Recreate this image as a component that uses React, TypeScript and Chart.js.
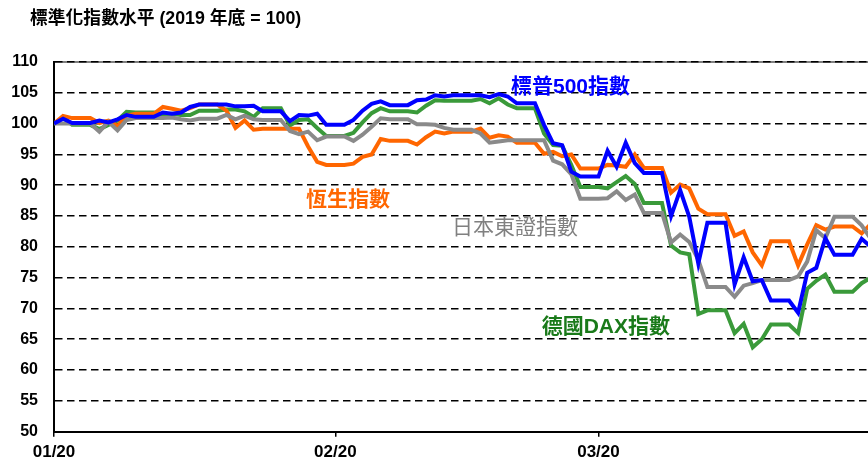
import React, { useEffect, useRef } from "react";
import { Chart, registerables } from "chart.js";

Chart.register(...registerables);

// ---- data ----
const TITLE = "標準化指數水平 (2019 年底 = 100)";

// day number counted from 1 Jan 2020 (= 0); weekdays only, weekends are carried forward
const TRADING_DAYS = [
  0, 1, 2, 5, 6, 7, 8, 9, 12, 13, 14, 15, 16, 19, 20, 21, 22, 23, 26, 27, 28, 29, 30,
  33, 34, 35, 36, 37, 40, 41, 42, 43, 44, 47, 48, 49, 50, 51, 54, 55, 56, 57, 58,
  61, 62, 63, 64, 65, 68, 69, 70, 71, 72, 75, 76, 77, 78, 79, 82, 83, 84, 85, 86, 89, 90,
];

const X_TICKS = [0, 31, 60];
const X_TICK_LABELS = ["01/20", "02/20", "03/20"];

const SP500 = [
  100, 100.8, 100.1, 100.5, 100.2, 100.7, 101.4, 101.1, 101.8, 101.6, 101.8, 102.7, 103.1,
  103.1, 102.8, 102.8, 102.9, 102.0, 100.4, 101.4, 101.3, 101.6, 99.8,
  100.6, 102.1, 103.2, 103.6, 103.0, 103.8, 103.9, 104.6, 104.4, 104.6,
  104.6, 104.3, 104.8, 104.4, 103.3, 99.8, 96.8, 96.5, 92.2, 91.4,
  95.6, 93.0, 96.9, 93.6, 92.0, 85.0, 89.2, 84.9, 77.3, 83.9,
  73.9, 78.3, 74.4, 74.6, 71.3, 69.3, 75.8, 76.6, 81.4, 78.7, 81.3, 80.0,
];

const HANG_SENG = [
  100, 101.25, 100.9, 100.1, 100.5, 99.6, 101.3, 101.6, 102.7, 102.4, 102.1, 102.5, 103.1,
  102.1, 99.3, 100.5, 99.0, 99.15, 99.15, 99.15, 96.3, 93.8, 93.3,
  93.5, 94.6, 95.0, 97.5, 97.2, 96.6, 97.8, 98.7, 98.4, 98.7,
  99.2, 97.7, 98.1, 97.9, 96.9, 95.1, 95.4, 94.7, 95.0, 92.7,
  93.3, 93.2, 93.0, 95.0, 92.8, 88.8, 90.1, 89.5, 86.2, 85.3,
  81.8, 82.5, 79.1, 77.0, 80.9, 77.0, 80.4, 83.5, 82.8, 83.3, 82.2, 83.7,
];

const TOPIX = [
  100, 100, 100, 98.7, 100.3, 98.9, 100.6, 100.9, 100.9, 101.0, 100.7, 100.5, 100.8,
  101.4, 100.7, 101.3, 100.7, 100.6, 98.8, 98.3, 98.7, 97.3, 97.9,
  97.2, 98.2, 99.5, 100.85, 100.7, 99.9, 99.9, 99.8, 99.3, 99.0,
  98.4, 96.9, 97.1, 97.3, 97.3, 97.3, 94.0, 93.4, 91.8, 87.8,
  87.9, 89.0, 87.6, 88.5, 85.5, 80.7, 82.0, 80.8, 77.9, 73.5,
  71.9, 73.7, 74.1, 74.6, 74.6, 75.2, 77.6, 82.7, 81.4, 84.9, 83.5, 81.3,
];

const DAX = [
  100, 101.0, 99.8, 99.1, 99.8, 100.5, 101.9, 101.8, 101.5, 101.6, 101.4, 101.4, 102.1,
  102.3, 102.3, 102.0, 101.1, 102.5, 99.7, 100.6, 100.7, 99.3, 98.0,
  98.5, 100.2, 101.7, 102.5, 102.0, 101.8, 102.9, 103.8, 103.7, 103.7,
  104.0, 103.3, 104.1, 103.1, 102.5, 98.4, 96.5, 96.4, 93.3, 89.7,
  89.5, 90.5, 91.5, 90.2, 87.1, 80.2, 79.1, 78.8, 69.1, 69.7,
  66.0, 67.5, 63.7, 65.0, 67.4, 66.0, 73.2, 74.5, 75.5, 72.7, 74.1, 75.0,
];

const SERIES_NAMES = ["標普500指數", "日本東證指數", "恆生指數", "德國DAX指數"];

// ---- helpers ----
const FONT = '"Liberation Sans", "Noto Sans CJK TC", Arial, sans-serif';

function dailySeries(values: number[]) {
  const pts: { x: number; y: number }[] = [];
  let j = 0;
  const last = TRADING_DAYS[TRADING_DAYS.length - 1];
  for (let d = 0; d <= last; d++) {
    while (j + 1 < TRADING_DAYS.length && TRADING_DAYS[j + 1] <= d) j++;
    pts.push({ x: d, y: values[j] });
  }
  return pts;
}

const overlayPlugin = {
  id: "overlay",
  afterDatasetsDraw(chart: any) {
    const { ctx, chartArea, scales } = chart;
    const { x, y } = scales;
    ctx.save();
    // top frame line
    ctx.strokeStyle = "#000";
    ctx.lineWidth = 1;
    ctx.beginPath();
    ctx.moveTo(chartArea.left, chartArea.top);
    ctx.lineTo(chartArea.right, chartArea.top);
    ctx.stroke();

    // series labels
    const labels = chart.options.plugins.overlay.labels;
    ctx.textAlign = "left";
    ctx.textBaseline = "middle";
    for (const l of labels) {
      ctx.font = `${l.bold ? "bold " : ""}21px ${FONT}`;
      ctx.fillStyle = l.color;
      ctx.fillText(l.text, x.getPixelForValue(l.day), y.getPixelForValue(l.value));
    }

    // title
    ctx.font = `bold 17.8px ${FONT}`;
    ctx.fillStyle = "#000";
    ctx.textBaseline = "middle";
    ctx.fillText(TITLE, 30, 19.5);
    ctx.restore();
  },
};

export default function App() {
  const ref = useRef<HTMLCanvasElement | null>(null);

  useEffect(() => {
    if (!ref.current) return;
    const chart = new Chart(ref.current, {
      type: "line",
      data: {
        datasets: [
          { label: SERIES_NAMES[0], data: dailySeries(SP500), borderColor: "#0000FF" },
          { label: SERIES_NAMES[1], data: dailySeries(TOPIX), borderColor: "#8A8A8A" },
          { label: SERIES_NAMES[2], data: dailySeries(HANG_SENG), borderColor: "#FF6600" },
          { label: SERIES_NAMES[3], data: dailySeries(DAX), borderColor: "#3A9A3A" },
        ],
      },
      options: {
        responsive: true,
        maintainAspectRatio: false,
        animation: false,
        layout: { padding: { top: 62, left: 0, right: 0, bottom: 0 } },
        elements: {
          point: { radius: 0, hoverRadius: 0 },
          line: { tension: 0, borderWidth: 4, fill: false },
        },
        plugins: {
          legend: { display: false },
          tooltip: { enabled: false },
          title: { display: false },
          overlay: {
            labels: [
              { text: SERIES_NAMES[0], day: 50.36, value: 105.86, color: "#0000FF", bold: true },
              { text: SERIES_NAMES[2], day: 27.77, value: 87.55, color: "#FF6600", bold: true },
              { text: SERIES_NAMES[1], day: 43.86, value: 83.0, color: "#808080", bold: false },
              { text: SERIES_NAMES[3], day: 53.74, value: 66.9, color: "#1A7A1A", bold: true },
            ],
          },
        } as any,
        scales: {
          x: {
            type: "linear",
            min: 0,
            max: 89.7,
            afterBuildTicks: (s: any) => {
              s.ticks = X_TICKS.map((v) => ({ value: v }));
            },
            afterFit: (s: any) => {
              s.height = 30.3;
            },
            grid: {
              drawOnChartArea: false,
              drawTicks: true,
              tickLength: 5,
              color: "#000",
              lineWidth: 1.5,
            },
            border: { display: true, color: "#000", width: 2 },
            ticks: {
              autoSkip: false,
              maxRotation: 0,
              minRotation: 0,
              color: "#000",
              padding: 5,
              font: { family: FONT, size: 17, weight: "bold" },
              callback: (v: any) => {
                const i = X_TICKS.indexOf(Number(v));
                return i >= 0 ? X_TICK_LABELS[i] : "";
              },
            },
          },
          y: {
            min: 50,
            max: 110,
            afterFit: (s: any) => {
              s.width = 54;
            },
            ticks: {
              stepSize: 5,
              color: "#000",
              padding: 16,
              font: { family: FONT, size: 16, weight: "bold" },
            },
            grid: { color: "#000", lineWidth: 1.6, drawTicks: false },
            border: { display: true, color: "#000", width: 2, dash: [7.5, 4.5] },
          },
        },
      },
      plugins: [overlayPlugin],
    } as any);
    return () => chart.destroy();
  }, []);

  return (
    <div style={{ position: "absolute", left: 0, top: 0, width: 868, height: 462 }}>
      <canvas ref={ref} />
    </div>
  );
}
